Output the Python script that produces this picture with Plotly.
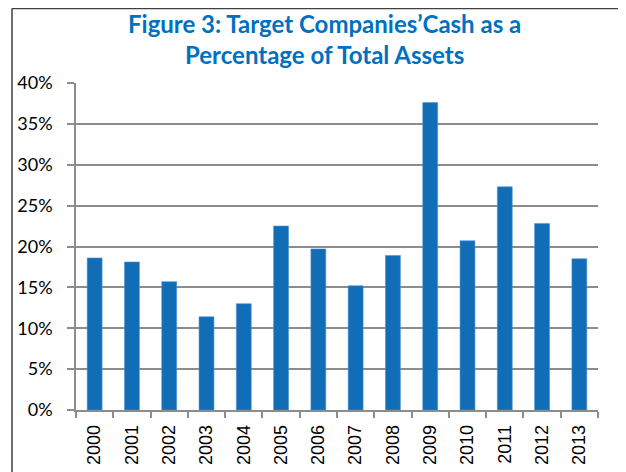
"""
Gráfico de barras: efectivo de las compañías objetivo como % de activos totales
"""

import plotly.graph_objects as go

# Datos
anios = ['2000', '2001', '2002', '2003', '2004', '2005', '2006',
         '2007', '2008', '2009', '2010', '2011', '2012', '2013']
efectivo_pct = [0.186, 0.181, 0.157, 0.114, 0.130, 0.225, 0.197,
                0.152, 0.189, 0.376, 0.207, 0.273, 0.228, 0.185]

titulo_l1 = "Figure 3: Target Companies\u2019Cash as a"
titulo_l2 = "Percentage of Total Assets"

# La página tiene 8 px de margen en el body: la figura empieza en (8, 8)
ANCHO, ALTO = 618, 464
M_L, M_R, M_T, M_B = 68, 28, 75, 62
plot_w = ANCHO - M_L - M_R
plot_h = ALTO - M_T - M_B


def px_x(px):
    # px en coordenadas de la figura -> paper
    return (px - M_L) / plot_w


def px_y(py):
    return (ALTO - M_B - py) / plot_h


fig = go.Figure()

fig.add_trace(go.Bar(
    x=anios,
    y=efectivo_pct,
    marker=dict(color='#116DB6', line=dict(color='#4F93CF', width=0.6)),
    hoverinfo='x+y',
))

# Marco del cuadro (izquierda y arriba oscuros, derecha gris claro)
x_izq = px_x(4)
x_der = px_x(617)
y_sup = px_y(0.5)
y_inf = px_y(470)
fig.add_shape(type='line', xref='paper', yref='paper',
              x0=x_izq, x1=x_izq, y0=y_inf, y1=y_sup,
              line=dict(color='#404040', width=1.5))
fig.add_shape(type='line', xref='paper', yref='paper',
              x0=x_izq, x1=x_der, y0=y_sup, y1=y_sup,
              line=dict(color='#404040', width=1.5))
fig.add_shape(type='line', xref='paper', yref='paper',
              x0=x_der, x1=x_der, y0=y_inf, y1=y_sup,
              line=dict(color='#BBBBBB', width=1.5))

# Título en dos líneas
fuente_titulo = dict(family='Lato', size=24, color='#0070C0', weight='bold')
for texto, centro in [(titulo_l1, 16), (titulo_l2, 47)]:
    fig.add_annotation(
        text=texto, xref='paper', yref='paper',
        x=px_x(316), y=px_y(centro),
        xanchor='center', yanchor='middle',
        showarrow=False, font=fuente_titulo,
    )

fig.update_layout(
    width=ANCHO,
    height=ALTO,
    margin=dict(l=M_L, r=M_R, t=M_T, b=M_B),
    paper_bgcolor='white',
    plot_bgcolor='white',
    showlegend=False,
    bargap=0.6,
    xaxis=dict(
        type='category',
        automargin=False,
        tickangle=-90,
        tickfont=dict(family='Liberation Sans', size=18, color='black'),
        ticklabelstandoff=6,
        showline=True,
        linecolor='#8C8C8C',
        linewidth=1.5,
        ticks='outside',
        tickson='boundaries',
        ticklen=6,
        tickcolor='#8C8C8C',
        tickwidth=1.5,
        showgrid=False,
    ),
    yaxis=dict(
        range=[0, 0.4],
        dtick=0.05,
        tickformat='.0%',
        automargin=False,
        tickfont=dict(family='Lato', size=18, color='black'),
        ticklabelstandoff=11,
        showline=True,
        linecolor='#8C8C8C',
        linewidth=1.5,
        ticks='outside',
        ticklen=7,
        tickcolor='#8C8C8C',
        tickwidth=1.5,
        showgrid=True,
        gridcolor='#8C8C8C',
        gridwidth=1.5,
        zeroline=False,
    ),
)

fig.write_html("out.html")
